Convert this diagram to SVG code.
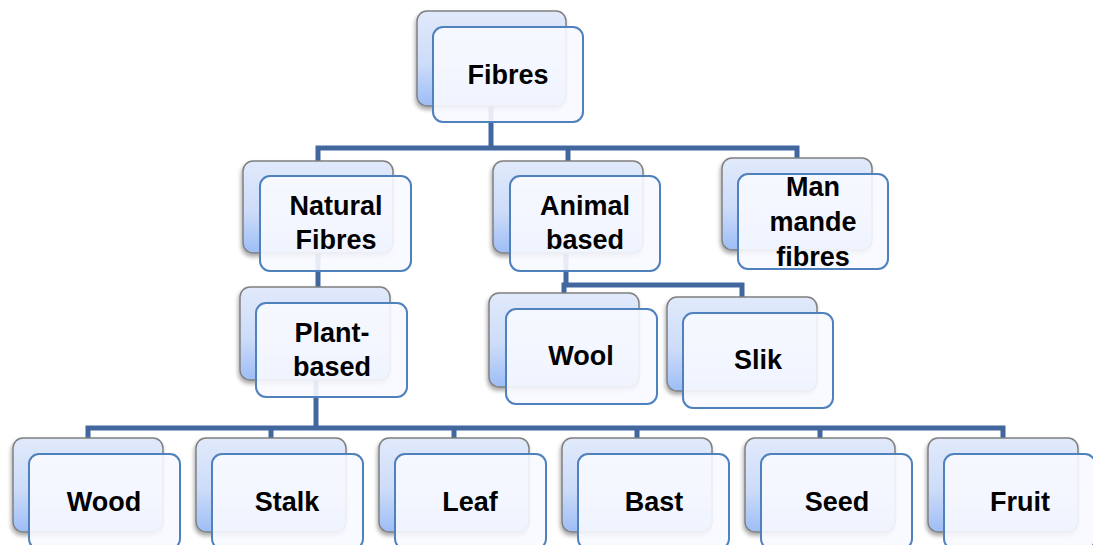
<svg xmlns="http://www.w3.org/2000/svg" width="1093" height="545" viewBox="0 0 1093 545">
  <defs>
    <linearGradient id="backFill" x1="0" y1="0" x2="0" y2="1">
      <stop offset="0" stop-color="#e1eafb"/>
      <stop offset="0.55" stop-color="#cddcf9"/>
      <stop offset="1" stop-color="#9dbdf6"/>
    </linearGradient>
    <filter id="shadow" x="-10%" y="-10%" width="125%" height="130%">
      <feGaussianBlur in="SourceAlpha" stdDeviation="2"/>
      <feOffset dx="-1" dy="3" result="b"/>
      <feComponentTransfer><feFuncA type="linear" slope="0.35"/></feComponentTransfer>
      <feMerge><feMergeNode/><feMergeNode in="SourceGraphic"/></feMerge>
    </filter>
  </defs>
  <style>
    .back { fill: url(#backFill); stroke: #808080; stroke-width: 1.5; filter: url(#shadow); }
    .front { fill: #f8faff; fill-opacity: 0.9; stroke: #4f81bd; stroke-width: 2; }
    .lbl { font-family: "Liberation Sans", Arial, sans-serif; font-weight: bold; font-size: 27px; fill: #000; text-anchor: middle; }
    .conn { fill: none; stroke: #41679e; stroke-width: 5; stroke-linejoin: miter; stroke-linecap: square; }
  </style>

  <rect width="1093" height="545" fill="#ffffff"/>

  <g id="connectors">
    <path class="conn" d="M491 106 V148 M318 161 V148 H797 V158 M568 148 V161"/>
    <path class="conn" d="M318 253 V287"/>
    <path class="conn" d="M316 380 V428 M88 438 V428 H1003 V438 M271 428 V438 M454 428 V438 M637 428 V438 M820 428 V438"/>
    <path class="conn" d="M566 253 V285 M564 293 V285 H742 V297"/>
  </g>

  <g id="fibres">
    <rect class="back" x="417" y="11" width="149" height="95" rx="10"/>
    <rect class="front" x="433" y="27" width="150" height="95" rx="10"/>
    <text class="lbl" x="508" y="84">Fibres</text>
  </g>

  <g id="natural-fibres">
    <rect class="back" x="243" y="161" width="150" height="92" rx="10"/>
    <rect class="front" x="260" y="176" width="151" height="95" rx="10"/>
    <text class="lbl" x="336" y="215">Natural</text>
    <text class="lbl" x="336" y="249">Fibres</text>
  </g>

  <g id="animal-based">
    <rect class="back" x="493" y="161" width="150" height="92" rx="10"/>
    <rect class="front" x="510" y="176" width="150" height="95" rx="10"/>
    <text class="lbl" x="585" y="215">Animal</text>
    <text class="lbl" x="585" y="249">based</text>
  </g>

  <g id="man-made-fibres">
    <rect class="back" x="722" y="158" width="150" height="92" rx="10"/>
    <rect class="front" x="738" y="174" width="150" height="95" rx="10"/>
    <text class="lbl" x="813" y="196">Man</text>
    <text class="lbl" x="813" y="231">mande</text>
    <text class="lbl" x="813" y="266">fibres</text>
  </g>

  <g id="plant-based">
    <rect class="back" x="240" y="287" width="150" height="93" rx="10"/>
    <rect class="front" x="256" y="303" width="151" height="94" rx="10"/>
    <text class="lbl" x="332" y="342">Plant-</text>
    <text class="lbl" x="332" y="376">based</text>
  </g>

  <g id="wool">
    <rect class="back" x="489" y="293" width="150" height="94" rx="10"/>
    <rect class="front" x="506" y="309" width="151" height="95" rx="10"/>
    <text class="lbl" x="581" y="365">Wool</text>
  </g>

  <g id="silk">
    <rect class="back" x="667" y="297" width="150" height="94" rx="10"/>
    <rect class="front" x="683" y="313" width="150" height="95" rx="10"/>
    <text class="lbl" x="758" y="369">Slik</text>
  </g>

  <g id="wood">
    <rect class="back" x="13" y="438" width="150" height="94" rx="10"/>
    <rect class="front" x="29" y="454" width="151" height="95" rx="10"/>
    <text class="lbl" x="104" y="511">Wood</text>
  </g>

  <g id="stalk">
    <rect class="back" x="196" y="438" width="150" height="94" rx="10"/>
    <rect class="front" x="212" y="454" width="151" height="95" rx="10"/>
    <text class="lbl" x="287" y="511">Stalk</text>
  </g>

  <g id="leaf">
    <rect class="back" x="379" y="438" width="150" height="94" rx="10"/>
    <rect class="front" x="395" y="454" width="151" height="95" rx="10"/>
    <text class="lbl" x="470" y="511">Leaf</text>
  </g>

  <g id="bast">
    <rect class="back" x="562" y="438" width="150" height="94" rx="10"/>
    <rect class="front" x="578" y="454" width="151" height="95" rx="10"/>
    <text class="lbl" x="654" y="511">Bast</text>
  </g>

  <g id="seed">
    <rect class="back" x="745" y="438" width="150" height="94" rx="10"/>
    <rect class="front" x="761" y="454" width="151" height="95" rx="10"/>
    <text class="lbl" x="837" y="511">Seed</text>
  </g>

  <g id="fruit">
    <rect class="back" x="928" y="438" width="150" height="94" rx="10"/>
    <rect class="front" x="944" y="454" width="151" height="95" rx="10"/>
    <text class="lbl" x="1020" y="511">Fruit</text>
  </g>
</svg>
